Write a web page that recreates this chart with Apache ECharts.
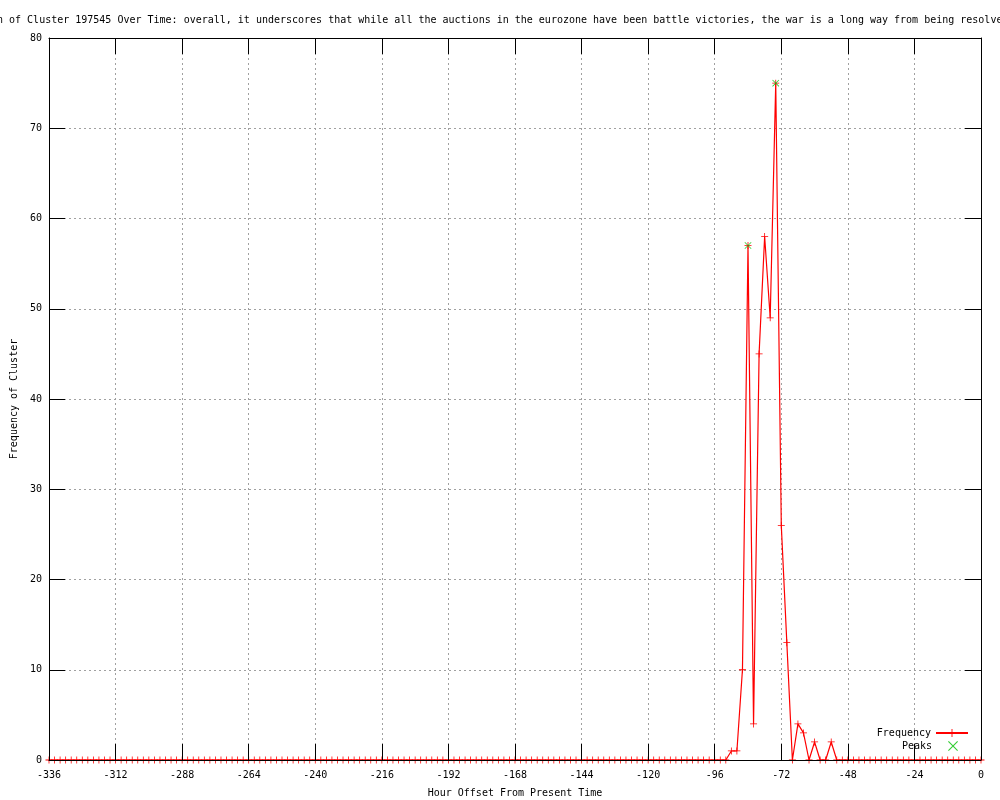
<!DOCTYPE html>
<html><head><meta charset="utf-8">
<script src="https://cdn.jsdelivr.net/npm/echarts@6/dist/echarts.min.js"></script>
<style>html,body{margin:0;padding:0;background:#fff}#c{width:1000px;height:800px}</style>
</head><body><div id="c"></div>
<script>
const titleText = "n of Cluster 197545 Over Time: overall, it underscores that while all the auctions in the eurozone have been battle victories, the war is a long way from being resolved";
const xAxisName = "Hour Offset From Present Time";
const yAxisName = "Frequency of Cluster";

const hours = [
-336,-334,-332,-330,-328,-326,-324,-322,-320,-318,-316,-314,
-312,-310,-308,-306,-304,-302,-300,-298,-296,-294,-292,-290,
-288,-286,-284,-282,-280,-278,-276,-274,-272,-270,-268,-266,
-264,-262,-260,-258,-256,-254,-252,-250,-248,-246,-244,-242,
-240,-238,-236,-234,-232,-230,-228,-226,-224,-222,-220,-218,
-216,-214,-212,-210,-208,-206,-204,-202,-200,-198,-196,-194,
-192,-190,-188,-186,-184,-182,-180,-178,-176,-174,-172,-170,
-168,-166,-164,-162,-160,-158,-156,-154,-152,-150,-148,-146,
-144,-142,-140,-138,-136,-134,-132,-130,-128,-126,-124,-122,
-120,-118,-116,-114,-112,-110,-108,-106,-104,-102,-100,-98,
-96,-94,-92,-90,-88,-86,-84,-82,-80,-78,-76,-74,
-72,-70,-68,-66,-64,-62,-60,-58,-56,-54,-52,-50,
-48,-46,-44,-42,-40,-38,-36,-34,-32,-30,-28,-26,
-24,-22,-20,-18,-16,-14,-12,-10,-8,-6,-4,-2,
0];

const frequency = [
0,0,0,0,0,0,0,0,0,0,0,0,
0,0,0,0,0,0,0,0,0,0,0,0,
0,0,0,0,0,0,0,0,0,0,0,0,
0,0,0,0,0,0,0,0,0,0,0,0,
0,0,0,0,0,0,0,0,0,0,0,0,
0,0,0,0,0,0,0,0,0,0,0,0,
0,0,0,0,0,0,0,0,0,0,0,0,
0,0,0,0,0,0,0,0,0,0,0,0,
0,0,0,0,0,0,0,0,0,0,0,0,
0,0,0,0,0,0,0,0,0,0,0,0,
0,0,0,1,1,10,57,4,45,58,49,75,
26,13,0,4,3,0,2,0,0,2,0,0,
0,0,0,0,0,0,0,0,0,0,0,0,
0,0,0,0,0,0,0,0,0,0,0,0,
0];

const peakHours = [-84, -74];
const peakValues = [57, 75];

const xMin = -336, xMax = 0, xStep = 24;
const yMin = 0, yMax = 80, yStep = 10;

const FONT = '"DejaVu Sans Mono", "Liberation Mono", monospace';
const plusPath = 'path://M4,0H5V4H9V5H5V9H4V5H0V4H4Z';
const crossPath = 'path://M0,0.7L0.7,0L9,8.3L8.3,9Z M8.3,0L9,0.7L0.7,9L0,8.3Z';

const chart = echarts.init(document.getElementById('c'), null, {renderer: 'canvas'});
const txt = {color: '#000', fontSize: 10, fontFamily: FONT};
const gridLine = {show: true, lineStyle: {color: '#a0a0a0', width: 1, type: [2, 3]}};
const border = {show: true, onZero: false, lineStyle: {color: '#000', width: 1}};
const tick = {show: true, inside: true, length: 16, lineStyle: {color: '#000', width: 1}};

chart.setOption({
  animation: false,
  backgroundColor: '#fff',
  title: {text: titleText, left: -3, top: 15, padding: 0,
    textStyle: {color: '#000', fontSize: 10, fontWeight: 'normal', fontFamily: FONT}},
  grid: {left: 49, right: 19, top: 38, bottom: 40, containLabel: false, outerBoundsMode: 'none'},
  legend: [
    {data: ['Frequency'], orient: 'vertical', align: 'right', right: 31, top: 728, padding: 0,
     itemWidth: 32, itemHeight: 10, selectedMode: false, textStyle: txt},
    {data: ['Peaks'], orient: 'vertical', align: 'right', right: 42, top: 741, padding: 0,
     itemWidth: 32, itemHeight: 10, selectedMode: false, textStyle: txt}
  ],
  xAxis: [
    {type: 'value', position: 'bottom', min: xMin, max: xMax, interval: xStep, z: 3,
     axisLine: border, axisTick: tick, splitLine: {show: false},
     axisLabel: Object.assign({margin: 10}, txt),
     name: xAxisName, nameLocation: 'middle', nameGap: 28, nameTextStyle: txt},
    {type: 'value', position: 'top', min: xMin, max: xMax, interval: xStep,
     axisLine: border, axisTick: tick, splitLine: gridLine, axisLabel: {show: false}}
  ],
  yAxis: [
    {type: 'value', position: 'left', min: yMin, max: yMax, interval: yStep, z: 3,
     axisLine: border, axisTick: tick, splitLine: {show: false},
     axisLabel: Object.assign({margin: 7}, txt),
     name: yAxisName, nameLocation: 'middle', nameRotate: 90, nameGap: 30, nameTextStyle: txt},
    {type: 'value', position: 'right', min: yMin, max: yMax, interval: yStep,
     axisLine: border, axisTick: tick, splitLine: gridLine, axisLabel: {show: false}}
  ],
  series: [
    {type: 'line', name: 'Frequency', xAxisIndex: 0, yAxisIndex: 0,
     data: hours.map((h, i) => [h, frequency[i]]),
     symbol: plusPath, symbolSize: 7, showAllSymbol: true, showSymbol: true,
     lineStyle: {color: '#ff0000', width: 1.2}, itemStyle: {color: '#ff0000'},
     emphasis: {disabled: true}, silent: true, z: 2},
    {type: 'scatter', name: 'Peaks', xAxisIndex: 0, yAxisIndex: 0,
     data: peakHours.map((h, i) => [h, peakValues[i]]),
     symbol: crossPath, symbolSize: 7, symbolKeepAspect: true,
     itemStyle: {color: '#00c000'}, emphasis: {disabled: true}, silent: true, z: 4}
  ]
});
</script></body></html>
